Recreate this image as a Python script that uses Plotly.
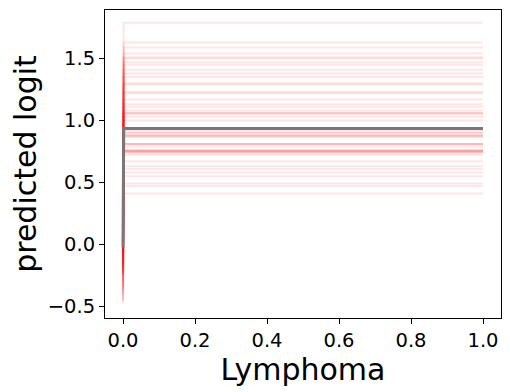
import plotly.graph_objects as go

# ICE curves for feature "Lymphoma": grid points, start (x=0) and end values per sample
grid = [0.0, 0.002, 1.0]
ice_end = [1.79, 1.63, 1.59, 1.54, 1.51, 1.50, 1.47, 1.45, 1.41, 1.38,
           1.35, 1.30, 1.29, 1.23, 1.22, 1.17, 1.13, 1.11, 1.08, 1.06,
           1.06, 1.05, 1.03, 1.00, 0.92, 0.90, 0.90, 0.88, 0.88, 0.87,
           0.87, 0.81, 0.81, 0.81, 0.79, 0.76, 0.76, 0.75, 0.75, 0.75,
           0.74, 0.74, 0.72, 0.67, 0.63, 0.61, 0.58, 0.55, 0.49, 0.47, 0.41]
ice_start = [0.83, 0.70, 0.62, 0.60, 0.55, 0.52, 0.50, 0.49, 0.45, 0.42,
             0.40, 0.34, 0.33, 0.27, 0.26, 0.21, 0.17, 0.16, 0.12, 0.10,
             0.09, 0.08, 0.06, 0.03, -0.04, -0.06, -0.07, -0.08, -0.09, -0.10,
             -0.11, -0.15, -0.16, -0.17, -0.18, -0.20, -0.21, -0.22, -0.23, -0.24,
             -0.24, -0.25, -0.26, -0.30, -0.34, -0.36, -0.39, -0.41, -0.45, -0.46, -0.48]
pd_start = -0.027
pd_end = 0.935

fig = go.Figure()
for s, e in zip(ice_start, ice_end):
    fig.add_trace(go.Scatter(x=grid, y=[s, e, e], mode='lines',
                             line=dict(color='rgba(255,0,0,0.1)', width=2),
                             hoverinfo='skip', showlegend=False))
fig.add_trace(go.Scatter(x=grid, y=[pd_start, pd_end, pd_end], mode='lines',
                         line=dict(color='rgb(120,120,120)', width=3),
                         showlegend=False))

axis_common = dict(showgrid=False, zeroline=False, showline=True, linecolor='black',
                   linewidth=1, mirror=True, ticks='outside', ticklen=5,
                   tickcolor='black', tickfont=dict(size=19.5, color='black'),
                   automargin=False)
fig.update_xaxes(range=[-0.05, 1.05], tickvals=[0, 0.2, 0.4, 0.6, 0.8, 1.0],
                 ticktext=['0.0', '0.2', '0.4', '0.6', '0.8', '1.0'],
                 title=dict(text='Lymphoma', font=dict(size=30, color='black'), standoff=2),
                 **axis_common)
fig.update_yaxes(range=[-0.596, 1.892], tickvals=[-0.5, 0.0, 0.5, 1.0, 1.5],
                 ticktext=['\u22120.5', '0.0', '0.5', '1.0', '1.5'],
                 title=dict(text='predicted logit', font=dict(size=30, color='black'), standoff=8),
                 **axis_common)
# page body adds an 8px margin, so the figure is a little smaller than the window
fig.update_layout(width=502, height=384, margin=dict(l=97, r=9, t=2, b=74),
                  plot_bgcolor='white', paper_bgcolor='white',
                  font=dict(family='DejaVu Sans'))
fig.write_html("out.html")
